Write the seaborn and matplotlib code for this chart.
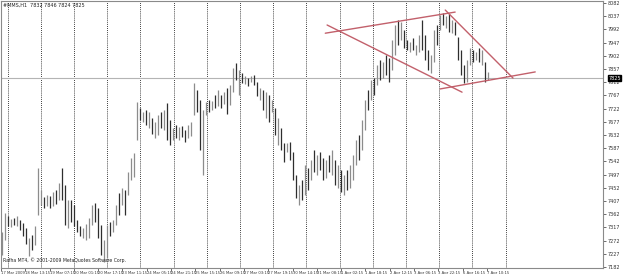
import numpy as np
import pandas as pd
import matplotlib
matplotlib.use("Agg")
import matplotlib.pyplot as plt
import matplotlib.transforms as mtransforms
import seaborn as sns

# H1 bars (price units)
highs = [7301, 7366, 7355, 7345, 7349, 7355, 7342, 7332, 7315, 7280,
         7291, 7321, 7519, 7444, 7420, 7427, 7424, 7437, 7444, 7468,
         7519, 7461, 7410, 7410, 7393, 7342, 7321, 7315, 7328, 7349,
         7393, 7400, 7383, 7325, 7274, 7325, 7335, 7342, 7393, 7434,
         7451, 7444, 7505, 7553, 7570, 7744, 7724, 7710, 7717, 7710,
         7690, 7676, 7700, 7710, 7717, 7741, 7683, 7656, 7666, 7659,
         7662, 7649, 7666, 7676, 7809, 7785, 7751, 7717, 7744, 7751,
         7748, 7768, 7785, 7768, 7778, 7792, 7802, 7860, 7877, 7853,
         7843, 7833, 7826, 7833, 7836, 7812, 7792, 7785, 7778, 7768,
         7751, 7724, 7690, 7656, 7604, 7604, 7608, 7574, 7495, 7461,
         7478, 7529, 7519, 7546, 7580, 7563, 7574, 7553, 7546, 7563,
         7580, 7546, 7529, 7512, 7495, 7512, 7529, 7563, 7615, 7632,
         7683, 7751, 7785, 7819, 7826, 7870, 7887, 7881, 7904, 7894,
         7956, 8007, 8024, 8017, 7990, 7956, 7949, 7962, 7939, 7973,
         8024, 7973, 7921, 7904, 7990, 8007, 8041, 8048, 8037, 8044,
         8024, 8017, 7966, 7921, 7870, 7887, 7928, 7921, 7915, 7928,
         7921, 7881, 7846]
lows = [7222, 7274, 7321, 7318, 7325, 7321, 7308, 7287, 7260, 7219,
        7239, 7257, 7359, 7393, 7383, 7390, 7383, 7390, 7396, 7410,
        7410, 7325, 7315, 7335, 7321, 7301, 7287, 7280, 7274, 7280,
        7325, 7335, 7280, 7222, 7199, 7212, 7287, 7301, 7325, 7359,
        7393, 7359, 7427, 7478, 7488, 7615, 7683, 7676, 7666, 7656,
        7635, 7621, 7632, 7656, 7649, 7615, 7598, 7615, 7621, 7615,
        7625, 7608, 7621, 7628, 7700, 7710, 7580, 7495, 7700, 7710,
        7717, 7724, 7731, 7724, 7737, 7703, 7734, 7778, 7819, 7768,
        7809, 7806, 7799, 7812, 7802, 7765, 7751, 7717, 7690, 7676,
        7710, 7632, 7598, 7580, 7540, 7574, 7546, 7478, 7417, 7393,
        7410, 7427, 7444, 7478, 7505, 7495, 7512, 7478, 7485, 7505,
        7495, 7461, 7451, 7437, 7427, 7444, 7451, 7478, 7529, 7546,
        7580, 7649, 7717, 7751, 7768, 7802, 7819, 7826, 7836, 7812,
        7853, 7904, 7939, 7956, 7928, 7921, 7915, 7921, 7904, 7915,
        7921, 7887, 7853, 7843, 7881, 7939, 7990, 8007, 7997, 7983,
        7979, 7973, 7887, 7836, 7809, 7812, 7870, 7881, 7887, 7881,
        7870, 7812, 7819]
closes = [7285, 7340, 7330, 7340, 7330, 7345, 7315, 7295, 7265, 7270,
          7250, 7310, 7410, 7420, 7400, 7415, 7395, 7430, 7410, 7460,
          7420, 7340, 7390, 7345, 7330, 7310, 7295, 7305, 7320, 7340,
          7385, 7350, 7295, 7240, 7260, 7320, 7300, 7330, 7385, 7370,
          7440, 7380, 7495, 7545, 7560, 7700, 7690, 7705, 7675, 7690,
          7645, 7660, 7690, 7665, 7710, 7630, 7625, 7650, 7630, 7655,
          7640, 7620, 7660, 7670, 7780, 7740, 7600, 7710, 7740, 7720,
          7745, 7730, 7770, 7735, 7770, 7720, 7795, 7850, 7830, 7840,
          7815, 7825, 7810, 7828, 7808, 7770, 7785, 7725, 7770, 7690,
          7720, 7640, 7665, 7590, 7560, 7595, 7555, 7490, 7430, 7450,
          7420, 7515, 7455, 7540, 7520, 7555, 7520, 7490, 7540, 7515,
          7570, 7470, 7520, 7445, 7490, 7455, 7520, 7555, 7605, 7560,
          7670, 7740, 7725, 7810, 7780, 7860, 7830, 7870, 7845, 7825,
          7945, 7990, 7950, 8005, 7940, 7930, 7945, 7925, 7935, 7960,
          7930, 7895, 7860, 7895, 7985, 7950, 8030, 8015, 8030, 7995,
          8015, 7980, 7895, 7845, 7815, 7880, 7915, 7890, 7910, 7885,
          7915, 7820, 7825]

time_labels = ["17 Mar 2009", "18 Mar 13:15", "19 Mar 07:15", "20 Mar 01:15",
               "20 Mar 17:15", "23 Mar 11:15", "24 Mar 05:15", "24 Mar 21:15",
               "25 Mar 15:15", "26 Mar 09:15", "27 Mar 03:15", "27 Mar 19:15",
               "30 Mar 14:15", "31 Mar 08:15", "1 Apr 02:15", "1 Apr 18:15",
               "2 Apr 12:15", "3 Apr 06:15", "3 Apr 22:15", "6 Apr 16:15",
               "7 Apr 10:15"]
price_ticks = list(range(7182, 8083, 45))
last_price = 7825
header = "#MMS,H1  7832 7846 7824 7825"
footer = "Rafha MT4, \u00a9 2001-2009 MetaQuotes Software Corp."

# hand-drawn trend lines: (bar index, price) anchors
trend_upper_x, trend_upper_y = [107.7, 151.0], [7979, 8051]
trend_fall1_x, trend_fall1_y = [108.3, 153.3], [8007, 7778]
trend_fall2_x, trend_fall2_y = [147.7, 170.3], [8058, 7826]
trend_lower_x, trend_lower_y = [146.0, 177.7], [7789, 7847]

sns.set_theme(style="white")
plt.rcParams["font.family"] = ["DejaVu Sans"]

df = pd.DataFrame({"bar": np.arange(len(highs)), "high": highs,
                   "low": lows, "close": closes})
df["up"] = df["close"].diff().fillna(1) >= 0

fig = plt.figure(figsize=(6.25, 2.74), dpi=100)
ax = fig.add_axes([1 / 625, 6 / 274, 602 / 625, 267 / 274])

# vertical dotted grid
for g in 1.77 + 11.07 * np.arange(16):
    ax.axvline(g, color="black", lw=0.6, ls=(0, (1, 1.5)), zorder=0)

ax.axhline(last_price, color="#b4b4b4", lw=0.8, zorder=1)

up = df[df["up"]]
dn = df[~df["up"]]
ax.vlines(up["bar"], up["low"], up["high"], color="#8c8c8c", lw=0.9, zorder=2)
ax.vlines(dn["bar"], dn["low"], dn["high"], color="#2e2e2e", lw=0.9, zorder=2)

for xs, ys in [(trend_upper_x, trend_upper_y), (trend_fall1_x, trend_fall1_y),
               (trend_fall2_x, trend_fall2_y), (trend_lower_x, trend_lower_y)]:
    sns.lineplot(x=xs, y=ys, color="#c2606b", lw=1, ax=ax, zorder=3)

ax.set_xlim(-0.33, 200.3)
ax.set_ylim(7178.6, 8088.8)

ax.yaxis.tick_right()
ax.set_yticks(price_ticks)
ax.set_yticklabels([str(p) for p in price_ticks])
ax.set_xticks(-0.43 + 8.1 * np.arange(len(time_labels)))
ax.set_xticklabels(time_labels)
for lab in ax.get_xticklabels():
    lab.set_ha("left")
    lab.set_family(["Liberation Sans Narrow", "DejaVu Sans"])
ax.tick_params(axis="y", direction="out", length=2, width=0.5, labelsize=3.5,
               pad=1.5, colors="#333333", right=True, left=False)
ax.tick_params(axis="x", direction="out", length=2, width=0.5, labelsize=2.7,
               pad=0.5, colors="#333333", bottom=True)

for s in ax.spines.values():
    s.set_color("#8a8a8a")
    s.set_linewidth(0.8)

trans = mtransforms.blended_transform_factory(ax.transAxes, ax.transData)
ax.text(1.009, last_price, str(last_price), transform=trans, color="white",
        fontsize=3.5, va="center", ha="left",
        bbox=dict(fc="black", ec="black", pad=0.4))

ax.text(0.003, 0.995, header, transform=ax.transAxes, va="top", ha="left",
        fontsize=3.5, color="#222222")
ax.text(0.003, 0.02, footer, transform=ax.transAxes, va="bottom", ha="left",
        fontsize=3.3, color="#222222")

fig.savefig("out.png", dpi=100)
